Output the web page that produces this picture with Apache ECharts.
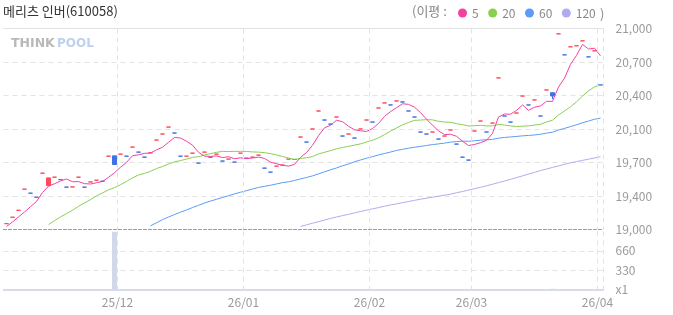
<!DOCTYPE html>
<html><head><meta charset="utf-8">
<script src="https://cdn.jsdelivr.net/npm/echarts@6/dist/echarts.min.js"></script>
<style>html,body{margin:0;padding:0;background:#fff}#c{width:673px;height:315px}</style>
</head><body><div id="c"></div>
<script>
// trading days per month (visible window)
const monthKeys = ['25/11','25/12','26/01','26/02','26/03','26/04'];
const days2511 = [4,5,6,7,10,11,12,13,14,17,18,19,20,21,24,25,26,27,28];
const days2512 = [1,2,3,4,5,8,9,10,11,12,15,16,17,18,19,22,23,24,26,29,30];
const days2601 = [2,5,6,7,8,9,12,13,14,15,16,19,20,21,22,23,26,27,28,29,30];
const days2602 = [2,3,4,5,6,9,10,11,12,13,19,20,23,24,25,26,27];
const days2603 = [3,4,5,6,9,10,11,12,13,16,17,18,19,20,23,24,25,26,27,30,31];
const days2604 = [1];
const monthDays = [days2511, days2512, days2601, days2602, days2603, days2604];

// closing prices
const closes = [
 19060,19124,19193,19403,19363,19323,19562,19515,19522,19498,
 19423,19425,19522,19423,19475,19492,19482,19731,19648,19751,
 19731,19821,19771,19721,19764,19891,19951,20020,19961,19731,
 19731,19761,19662,19771,19721,19751,19682,19702,19672,19761,
 19711,19721,19741,19612,19572,19632,19642,19702,19698,19921,
 19871,20001,20180,20090,20050,20120,19931,19951,19911,20001,
 20090,20070,20210,20260,20240,20280,20270,20180,20120,19971,
 19951,19971,19901,19931,19991,19851,19721,19692,19981,20080,
 19971,20060,20509,20130,20070,20160,20329,20240,20290,20130,
 20389,20329,20947,20738,20818,20828,20877,20718,20778,20439
];
// days with an actual trade range (others: open = high = low = close)
const tradeIdx  = [7, 18, 91];
const tradeOpen = [19438, 19734, 20362];
const tradeLow  = [19438, 19648, 20299];
const tradeHigh = [19515, 19734, 20362];

const volumes = [
 0,0,0,0,0,0,0,8,0,0,
 0,0,0,0,0,0,0,0,985,0,
 0,0,0,0,0,0,0,0,0,0,
 0,0,0,0,0,0,0,0,0,0,
 0,0,0,0,0,0,0,0,0,0,
 0,0,0,0,0,0,0,0,0,0,
 0,0,0,0,0,0,0,0,0,0,
 0,0,0,0,0,0,0,0,0,0,
 0,0,0,0,0,0,0,0,0,0,
 0,12,0,0,0,0,0,0,0,0
];

const ma5 = [
 19032,19077,19127,19176,19229,19281,19369,19433,19457,19484,
 19504,19477,19478,19458,19454,19467,19479,19521,19566,19621,
 19669,19736,19744,19759,19762,19794,19820,19869,19917,19911,
 19879,19841,19769,19731,19729,19733,19717,19725,19706,19714,
 19706,19713,19721,19709,19671,19656,19640,19632,19649,19719,
 19767,19839,19934,20013,20038,20088,20074,20028,19993,19983,
 19977,20005,20056,20126,20174,20212,20252,20246,20218,20164,
 20098,20039,19983,19945,19949,19929,19879,19837,19847,19865,
 19889,19957,20120,20150,20148,20186,20240,20186,20218,20230,
 20276,20276,20417,20507,20644,20732,20842,20796,20804,20728
];
const ma20 = [
 null,null,null,null,null,null,null,19050,19090,19127,
 19160,19193,19233,19266,19299,19336,19366,19396,19419,19447,
 19480,19515,19544,19560,19580,19608,19628,19653,19675,19687,
 19702,19719,19726,19743,19756,19769,19779,19777,19778,19779,
 19778,19773,19771,19766,19756,19743,19728,19712,19699,19708,
 19715,19727,19753,19769,19786,19804,19817,19829,19841,19853,
 19872,19889,19913,19945,19979,20011,20042,20066,20087,20090,
 20094,20092,20078,20070,20068,20054,20044,20031,20034,20038,
 20032,20032,20047,20040,20032,20026,20029,20032,20040,20048,
 20070,20088,20140,20180,20222,20271,20328,20380,20420,20438
];
const ma60 = [
 null,null,null,null,null,null,null,null,null,null,
 null,null,null,null,null,null,null,null,null,null,
 null,null,null,null,19039,19068,19100,19126,19151,19174,
 19196,19220,19242,19265,19285,19302,19320,19338,19356,19372,
 19388,19404,19420,19431,19442,19455,19468,19476,19489,19505,
 19519,19535,19555,19575,19595,19614,19635,19653,19675,19693,
 19710,19726,19743,19757,19772,19788,19799,19810,19820,19828,
 19837,19846,19853,19861,19870,19876,19880,19879,19884,19890,
 19894,19898,19910,19917,19922,19927,19933,19937,19942,19949,
 19960,19969,19991,20007,20025,20043,20063,20080,20098,20110
];
const ma120 = [
 null,null,null,null,null,null,null,null,null,null,
 null,null,null,null,null,null,null,null,null,null,
 null,null,null,null,null,null,null,null,null,null,
 null,null,null,null,null,null,null,null,null,null,
 null,null,null,null,null,null,null,null,null,19032,
 19048,19064,19080,19096,19112,19126,19140,19153,19167,19181,
 19194,19207,19220,19233,19246,19257,19269,19280,19292,19303,
 19313,19323,19333,19343,19353,19367,19380,19394,19407,19421,
 19436,19452,19468,19484,19500,19518,19535,19553,19570,19588,
 19603,19619,19634,19650,19665,19677,19689,19701,19713,19725
];

const priceTickLabels = ['19,000','19,400','19,700','20,100','20,400','20,700','21,000'];
const volTickLabels = ['x1','330','660',''];

// ---- build tables ----
const categories = [];
const monthStart = {};
monthDays.forEach((arr, mi) => {
  arr.forEach((d, di) => {
    if (di === 0 && mi > 0) monthStart[categories.length] = monthKeys[mi];
    categories.push(monthKeys[mi] + '/' + (d < 10 ? '0' + d : d));
  });
});
const candles = closes.map((c, i) => {
  const k = tradeIdx.indexOf(i);
  if (k >= 0) return [tradeOpen[k], c, tradeLow[k], tradeHigh[k]];
  return [c, c, c, c];
});

const FONT = '"Noto Sans CJK KR", "Noto Sans", sans-serif';
const PSTEP = 2000 / 6;
const isMonth = (idx) => monthStart[idx] !== undefined;
const vSplit = { show: true, interval: (idx) => isMonth(idx), lineStyle: { color: '#e3e3e3', type: [5, 4], width: 1 } };
const xLabel = {
  show: true, interval: (idx) => isMonth(idx),
  formatter: (v, idx) => monthStart[idx] || '',
  color: '#9a9a9a', fontSize: 12, fontFamily: FONT, margin: 7, padding: [0, 6, 0, 0]
};

const chart = echarts.init(document.getElementById('c'), null, { renderer: 'canvas' });
chart.setOption({
  animation: false,
  title: {
    text: '메리츠 인버(610058)', left: 3, top: 5, padding: 0,
    textStyle: { fontSize: 13, color: '#333', fontWeight: 'normal', fontFamily: FONT }
  },
  legend: {
    data: ['5', '20', '60', '120'], left: 458, top: 7, padding: 0, icon: 'circle',
    itemWidth: 9, itemHeight: 9, itemGap: 9.5, selectedMode: false,
    textStyle: { fontSize: 12, color: '#888', fontFamily: FONT }
  },
  graphic: [
    { type: 'text', left: 412, top: 5, style: { text: '(이평 :', fill: '#888', font: '13px ' + FONT } },
    { type: 'text', left: 600, top: 8, z: 10, style: { text: ')', fill: '#888', font: '13px ' + FONT } },
    { type: 'text', left: 11, top: 37, style: { text: 'THINK', fill: '#b9b9b9', font: 'bold 12.5px "DejaVu Sans"' } },
    { type: 'text', left: 57, top: 37.5, style: { text: 'POOL', fill: '#bfd0ee', font: 'bold 12px "DejaVu Sans"' } }
  ],
  grid: [
    { left: 3.5, width: 600, top: 28.5, height: 201.2 },
    { left: 3.5, width: 600, top: 231.5, height: 58 }
  ],
  xAxis: [
    { type: 'category', gridIndex: 0, data: categories, boundaryGap: true,
      axisLine: { show: true, lineStyle: { color: '#9a9a9a', type: [3, 2], width: 1 } },
      axisTick: { show: false }, axisLabel: { show: false }, splitLine: vSplit, z: 5 },
    { type: 'category', gridIndex: 1, data: categories, boundaryGap: true,
      axisLine: { show: true, lineStyle: { color: '#ccd1e3', width: 1.5 } },
      axisTick: { show: false }, axisLabel: xLabel, splitLine: vSplit },
    { type: 'category', gridIndex: 0, data: categories, position: 'top',
      axisLine: { show: true, lineStyle: { color: '#e2e2e2', width: 1 } },
      axisTick: { show: false }, axisLabel: { show: false }, splitLine: { show: false }, z: 5 }
  ],
  yAxis: [
    { type: 'value', gridIndex: 0, position: 'right', min: 19000, max: 21000, interval: PSTEP,
      axisLine: { show: false }, axisTick: { show: false },
      axisLabel: { color: '#9a9a9a', fontSize: 12, fontFamily: FONT, margin: 12,
        formatter: (v) => priceTickLabels[Math.round((v - 19000) / PSTEP)] || '' },
      splitLine: { show: true, showMinLine: false, showMaxLine: false, lineStyle: { color: '#e3e3e3', type: [5, 4] } } },
    { type: 'value', gridIndex: 1, position: 'right', min: 0, max: 990, interval: 330,
      axisLine: { show: false }, axisTick: { show: false },
      axisLabel: { color: '#9a9a9a', fontSize: 12, fontFamily: FONT, margin: 12,
        formatter: (v) => volTickLabels[Math.round(v / 330)] || '' },
      splitLine: { show: true, showMinLine: false, showMaxLine: false, lineStyle: { color: '#e3e3e3', type: [5, 4] } } }
  ],
  series: [
    { name: '120', type: 'line', data: ma120, xAxisIndex: 0, yAxisIndex: 0, showSymbol: false, symbol: 'circle',
      color: '#b0aaf0', lineStyle: { width: 1, color: '#b0aaf0' }, itemStyle: { color: '#b0aaf0' } },
    { name: '60', type: 'line', data: ma60, xAxisIndex: 0, yAxisIndex: 0, showSymbol: false, symbol: 'circle',
      color: '#5b9cf6', lineStyle: { width: 1, color: '#5b9cf6' }, itemStyle: { color: '#5b9cf6' } },
    { name: '20', type: 'line', data: ma20, xAxisIndex: 0, yAxisIndex: 0, showSymbol: false, symbol: 'circle',
      color: '#88d04e', lineStyle: { width: 1, color: '#88d04e' }, itemStyle: { color: '#88d04e' } },
    { name: '5', type: 'line', data: ma5, xAxisIndex: 0, yAxisIndex: 0, showSymbol: false, symbol: 'circle',
      color: '#f6409f', lineStyle: { width: 1, color: '#f6409f' }, itemStyle: { color: '#f6409f' } },
    { name: 'price', type: 'candlestick', data: candles, xAxisIndex: 0, yAxisIndex: 0, barWidth: 4,
      itemStyle: { color: '#fd4b5c', color0: '#3f72e6', borderColor: '#fd4b5c', borderColor0: '#3f72e6', borderWidth: 1 } },
    { name: 'vol', type: 'bar', data: volumes, xAxisIndex: 1, yAxisIndex: 1, barWidth: 5,
      itemStyle: { color: '#d2d7e9' } }
  ]
});
</script>
</body></html>
